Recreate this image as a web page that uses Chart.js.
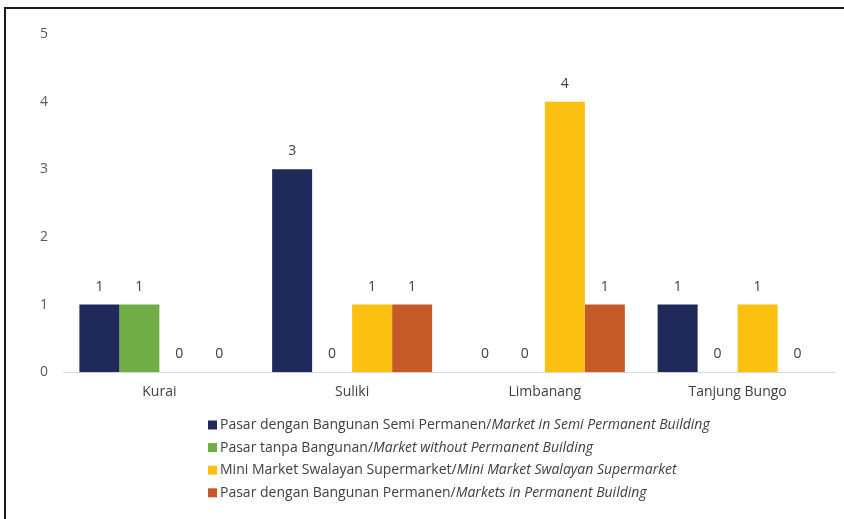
<!DOCTYPE html>
<html>
<head>
<meta charset="utf-8">
<script src="https://cdn.jsdelivr.net/npm/chart.js@4"></script>
<style>
  body { margin: 0; background: #fff; }
  #wrap { width: 844px; height: 519px; position: relative; }
</style>
</head>
<body>
<div id="wrap"><canvas id="pasarChart" width="844" height="519"></canvas></div>
<script>
const kecamatan = ['Kurai', 'Suliki', 'Limbanang', 'Tanjung Bungo'];
const semiPermanen = [1, 3, 0, 1];
const tanpaBangunan = [1, 0, 0, 0];
const miniMarket = [0, 1, 4, 1];
const permanen = [0, 1, 1, 0];
const yTicks = [0, 1, 2, 3, 4, 5];

const labelSemi = ['Pasar dengan Bangunan Semi Permanen/', 'Market in Semi Permanent Building'];
const labelTanpa = ['Pasar tanpa Bangunan/', 'Market without Permanent Building'];
const labelMini = ['Mini Market Swalayan Supermarket/', 'Mini Market Swalayan Supermarket'];
const labelPermanen = ['Pasar dengan Bangunan Permanen/', 'Markets in Permanent Building'];

const FONT = '"Open Sans", sans-serif';
const FS = 14;

// garis bingkai kiri dan atas
const bingkai = {
  id: 'bingkai',
  beforeDraw(chart) {
    const c = chart.ctx;
    c.save();
    c.strokeStyle = '#1a1a1a';
    c.lineWidth = 2;
    c.beginPath();
    c.moveTo(5, 519);
    c.lineTo(5, 8);
    c.lineTo(844, 8);
    c.stroke();
    c.restore();
  }
};

// angka di atas batang
const nilaiBatang = {
  id: 'nilaiBatang',
  afterDatasetsDraw(chart) {
    const c = chart.ctx;
    c.save();
    c.font = FS + 'px ' + FONT;
    c.fillStyle = '#404040';
    c.textAlign = 'center';
    c.textBaseline = 'middle';
    chart.data.datasets.forEach((ds, i) => {
      chart.getDatasetMeta(i).data.forEach((bar, j) => {
        c.fillText(ds.data[j], bar.x, bar.y - 18);
      });
    });
    c.restore();
  }
};

// legenda dengan bagian miring (italic)
const legendaCampur = {
  id: 'legendaCampur',
  afterDraw(chart) {
    const c = chart.ctx;
    c.save();
    c.textBaseline = 'middle';
    const x0 = 208, y0 = 425, gap = 22.6;
    chart.data.datasets.forEach((ds, i) => {
      const y = y0 + i * gap;
      c.fillStyle = ds.backgroundColor;
      c.fillRect(x0, y - 4.5, 9, 9);
      c.fillStyle = '#404040';
      c.font = FS + 'px ' + FONT;
      c.fillText(ds.label[0], x0 + 12, y);
      const w = c.measureText(ds.label[0]).width;
      c.font = 'italic ' + FS + 'px ' + FONT;
      c.fillText(ds.label[1], x0 + 12 + w, y);
    });
    c.restore();
  }
};

const ctx = document.getElementById('pasarChart').getContext('2d');
const pasarChart = new Chart(ctx, {
  type: 'bar',
  data: {
    labels: kecamatan,
    datasets: [
      { label: labelSemi, data: semiPermanen, backgroundColor: '#1f2a5a' },
      { label: labelTanpa, data: tanpaBangunan, backgroundColor: '#70ad47' },
      { label: labelMini, data: miniMarket, backgroundColor: '#fcc010' },
      { label: labelPermanen, data: permanen, backgroundColor: '#c55a28' }
    ]
  },
  options: {
    responsive: false,
    animation: false,
    layout: { padding: { left: 4, right: 10, top: 34, bottom: 108 } },
    datasets: { bar: { categoryPercentage: 0.83, barPercentage: 1.0 } },
    plugins: {
      legend: { display: false },
      tooltip: { enabled: false }
    },
    scales: {
      x: {
        grid: { display: false, drawTicks: false },
        border: { color: '#d9d9d9', width: 1 },
        ticks: { color: '#404040', font: { family: FONT, size: FS }, padding: 11 }
      },
      y: {
        min: 0,
        max: 5,
        afterFit(scale) { scale.width = 59; },
        afterBuildTicks(scale) { scale.ticks = yTicks.map(v => ({ value: v })); },
        grid: { display: false, drawTicks: false },
        border: { display: false },
        ticks: { color: '#595959', font: { family: FONT, size: FS }, padding: 15 }
      }
    }
  },
  plugins: [bingkai, nilaiBatang, legendaCampur]
});
</script>
</body>
</html>
